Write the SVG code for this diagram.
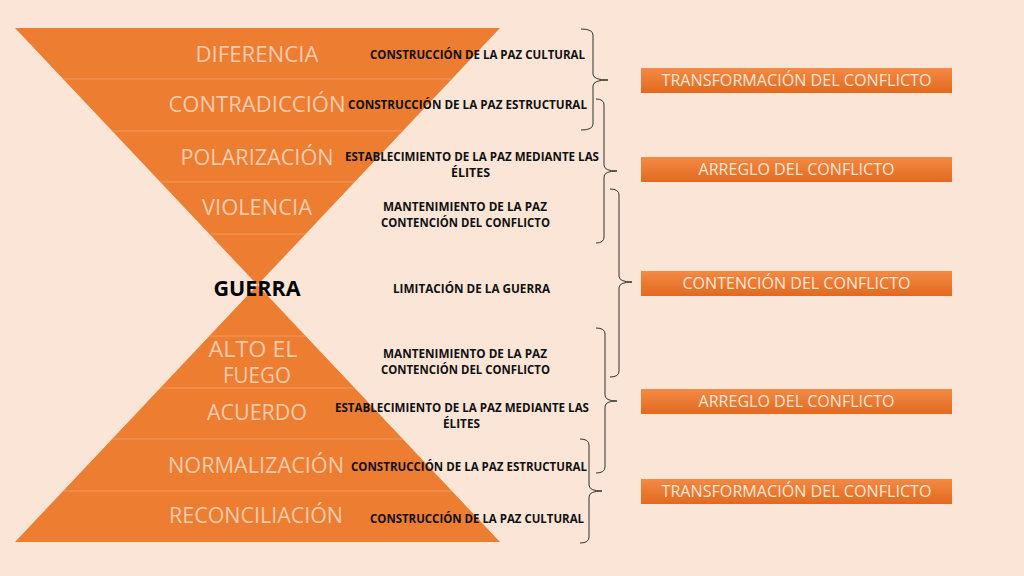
<svg xmlns="http://www.w3.org/2000/svg" width="1024" height="576" viewBox="0 0 1024 576">
<defs>
<linearGradient id="boxg" x1="0" y1="0" x2="0" y2="1">
<stop offset="0" stop-color="#F38A44"/>
<stop offset="1" stop-color="#E3691F"/>
</linearGradient>
<style>
.tri{fill:#ED7D31}
.sep{stroke:#F29A5E;stroke-width:1}
.lab{font-family:"Open Sans",Lato,sans-serif;font-size:21px;fill:#F8CBAD;text-anchor:middle}
.war{font-family:"Open Sans",Lato,sans-serif;font-size:21px;font-weight:bold;fill:#000;text-anchor:middle}
.mid{font-family:"Open Sans",Lato,sans-serif;font-size:11.5px;font-weight:bold;fill:#111;text-anchor:middle}
.brace{fill:none;stroke:#333;stroke-width:1}
.box{fill:url(#boxg)}
.btx{font-family:"Open Sans",Lato,sans-serif;font-size:16px;fill:#FCE6D8;text-anchor:middle}
</style>
</defs>
<rect width="1024" height="576" fill="#FBE5D6"/>
<g id="hourglass">
<polygon class="tri" points="15,28 500,28 257.5,285"/>
<polygon class="tri" points="257.5,285 500,542 15,542"/>
<line class="sep" x1="63" y1="79" x2="452" y2="79"/>
<line class="sep" x1="112" y1="131" x2="403" y2="131"/>
<line class="sep" x1="160" y1="182" x2="355" y2="182"/>
<line class="sep" x1="209" y1="234" x2="306" y2="234"/>
<line class="sep" x1="209" y1="336" x2="306" y2="336"/>
<line class="sep" x1="160" y1="388" x2="355" y2="388"/>
<line class="sep" x1="112" y1="439" x2="403" y2="439"/>
<line class="sep" x1="63" y1="491" x2="452" y2="491"/>
</g>
<g id="stage-diferencia"><text class="lab" x="257" y="62" textLength="123" lengthAdjust="spacingAndGlyphs">DIFERENCIA</text></g>
<g id="stage-contradiccion"><text class="lab" x="257" y="112" textLength="177" lengthAdjust="spacingAndGlyphs">CONTRADICCIÓN</text></g>
<g id="stage-polarizacion"><text class="lab" x="257" y="165" textLength="153" lengthAdjust="spacingAndGlyphs">POLARIZACIÓN</text></g>
<g id="stage-violencia"><text class="lab" x="257" y="215" textLength="110" lengthAdjust="spacingAndGlyphs">VIOLENCIA</text></g>
<g id="stage-guerra"><text class="war" x="257" y="296" textLength="87" lengthAdjust="spacingAndGlyphs">GUERRA</text></g>
<g id="stage-alto-el-fuego"><text class="lab" x="253" y="357" textLength="89" lengthAdjust="spacingAndGlyphs">ALTO EL</text><text class="lab" x="257" y="383" textLength="68" lengthAdjust="spacingAndGlyphs">FUEGO</text></g>
<g id="stage-acuerdo"><text class="lab" x="257" y="420" textLength="100" lengthAdjust="spacingAndGlyphs">ACUERDO</text></g>
<g id="stage-normalizacion"><text class="lab" x="256" y="473" textLength="176" lengthAdjust="spacingAndGlyphs">NORMALIZACIÓN</text></g>
<g id="stage-reconciliacion"><text class="lab" x="256" y="523" textLength="174" lengthAdjust="spacingAndGlyphs">RECONCILIACIÓN</text></g>
<g id="actions">
<text class="mid" x="477.5" y="59" textLength="215" lengthAdjust="spacingAndGlyphs">CONSTRUCCIÓN DE LA PAZ CULTURAL</text>
<text class="mid" x="467.5" y="109" textLength="239" lengthAdjust="spacingAndGlyphs">CONSTRUCCIÓN DE LA PAZ ESTRUCTURAL</text>
<text class="mid" x="472" y="161" textLength="254" lengthAdjust="spacingAndGlyphs">ESTABLECIMIENTO DE LA PAZ MEDIANTE LAS</text>
<text class="mid" x="470.5" y="177" textLength="39" lengthAdjust="spacingAndGlyphs">ÉLITES</text>
<text class="mid" x="465" y="211" textLength="164" lengthAdjust="spacingAndGlyphs">MANTENIMIENTO DE LA PAZ</text>
<text class="mid" x="465.5" y="227" textLength="169" lengthAdjust="spacingAndGlyphs">CONTENCIÓN DEL CONFLICTO</text>
<text class="mid" x="471.5" y="293" textLength="157" lengthAdjust="spacingAndGlyphs">LIMITACIÓN DE LA GUERRA</text>
<text class="mid" x="465" y="358" textLength="164" lengthAdjust="spacingAndGlyphs">MANTENIMIENTO DE LA PAZ</text>
<text class="mid" x="465.5" y="374" textLength="169" lengthAdjust="spacingAndGlyphs">CONTENCIÓN DEL CONFLICTO</text>
<text class="mid" x="462" y="412" textLength="254" lengthAdjust="spacingAndGlyphs">ESTABLECIMIENTO DE LA PAZ MEDIANTE LAS</text>
<text class="mid" x="461.5" y="428" textLength="37" lengthAdjust="spacingAndGlyphs">ÉLITES</text>
<text class="mid" x="469" y="471" textLength="236" lengthAdjust="spacingAndGlyphs">CONSTRUCCIÓN DE LA PAZ ESTRUCTURAL</text>
<text class="mid" x="477" y="523" textLength="214" lengthAdjust="spacingAndGlyphs">CONSTRUCCIÓN DE LA PAZ CULTURAL</text>
</g>
<g id="connectors">
<path class="brace" d="M581,29 Q593,29 593,35 L593,74 Q593,80 608,80 Q593,80 593,86 L593,124 Q593,130 581,130"/>
<path class="brace" d="M596,99 Q604,99 604,105 L604,165 Q604,171 617,171 Q604,171 604,177 L604,237 Q604,243 596,243"/>
<path class="brace" d="M610,189 Q619,189 619,195 L619,276 Q619,282 632,282 Q619,282 619,288 L619,371 Q619,377 610,377"/>
<path class="brace" d="M596,328 Q605,328 605,334 L605,395 Q605,401 617,401 Q605,401 605,407 L605,467 Q605,473 596,473"/>
<path class="brace" d="M580,439 Q589,439 589,445 L589,485 Q589,491 602,491 Q589,491 589,497 L589,537 Q589,543 580,543"/>
</g>
<g id="box-transformacion-1"><rect class="box" x="641" y="68" width="311" height="25"/><text class="btx" x="796.5" y="86" textLength="270" lengthAdjust="spacingAndGlyphs">TRANSFORMACIÓN DEL CONFLICTO</text></g>
<g id="box-arreglo-1"><rect class="box" x="641" y="157" width="311" height="25"/><text class="btx" x="796.5" y="175" textLength="196" lengthAdjust="spacingAndGlyphs">ARREGLO DEL CONFLICTO</text></g>
<g id="box-contencion"><rect class="box" x="641" y="271" width="311" height="25"/><text class="btx" x="796.5" y="289" textLength="228" lengthAdjust="spacingAndGlyphs">CONTENCIÓN DEL CONFLICTO</text></g>
<g id="box-arreglo-2"><rect class="box" x="641" y="389" width="311" height="25"/><text class="btx" x="796.5" y="407" textLength="196" lengthAdjust="spacingAndGlyphs">ARREGLO DEL CONFLICTO</text></g>
<g id="box-transformacion-2"><rect class="box" x="641" y="479" width="311" height="25"/><text class="btx" x="796.5" y="497" textLength="270" lengthAdjust="spacingAndGlyphs">TRANSFORMACIÓN DEL CONFLICTO</text></g>
</svg>
